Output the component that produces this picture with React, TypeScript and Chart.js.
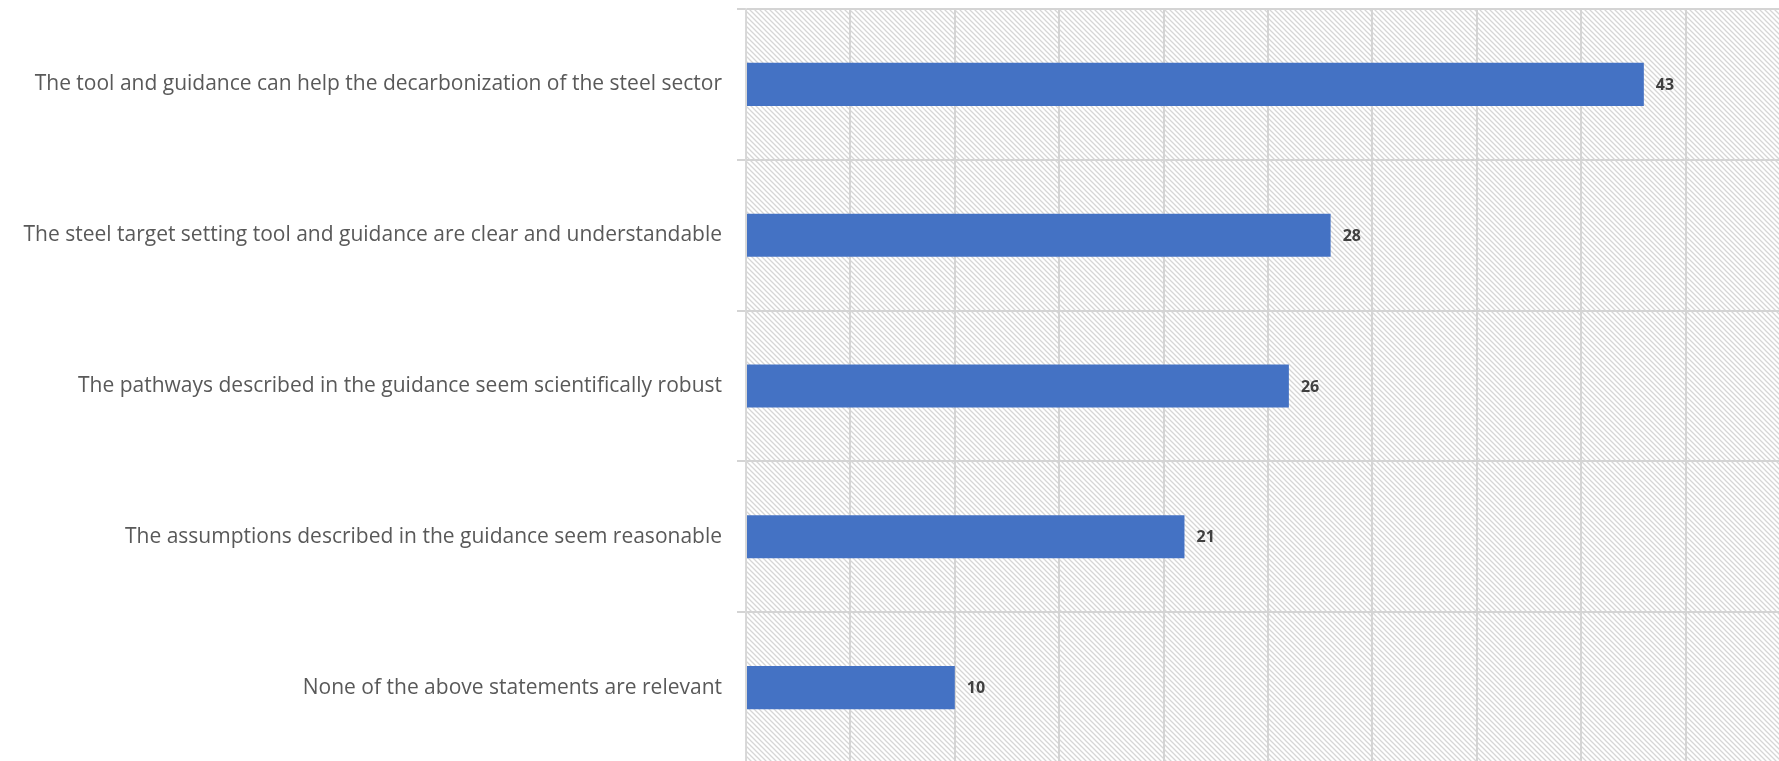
import React, { useEffect, useRef } from "react";
import { Chart, registerables } from "chart.js";

Chart.register(...registerables);

const categories: string[] = [
  "The tool and guidance can help the decarbonization of the steel sector",
  "The steel target setting tool and guidance are clear and understandable",
  "The pathways described in the guidance seem scientifically robust",
  "The assumptions described in the guidance seem reasonable",
  "None of the above statements are relevant",
];
const values: number[] = [43, 28, 26, 21, 10];
const xMin = 0;
const xMax = 50;
const xStep = 5;

const LABEL_FONT = "'Open Sans', sans-serif";

function makePattern(ctx: CanvasRenderingContext2D): CanvasPattern | string {
  const s = 5;
  const c = document.createElement("canvas");
  c.width = s;
  c.height = s;
  const p = c.getContext("2d");
  if (!p) return "#eeeeee";
  p.fillStyle = "#ffffff";
  p.fillRect(0, 0, s, s);
  p.strokeStyle = "#d6d6d6";
  p.lineWidth = 1.3;
  p.beginPath();
  p.moveTo(-1, -1);
  p.lineTo(s + 1, s + 1);
  p.moveTo(-1 - s, -1);
  p.lineTo(1, s + 1);
  p.moveTo(s - 1, -1);
  p.lineTo(2 * s + 1, s + 1);
  p.stroke();
  return ctx.createPattern(c, "repeat") || "#eeeeee";
}

const hatchPlugin = {
  id: "hatchBg",
  beforeDraw(chart: any) {
    const { ctx, chartArea } = chart;
    if (!chartArea) return;
    ctx.save();
    ctx.fillStyle = makePattern(ctx);
    ctx.fillRect(chartArea.left, chartArea.top, chartArea.right - chartArea.left, chartArea.bottom - chartArea.top);
    ctx.restore();
  },
};

const valueLabelPlugin = {
  id: "valueLabels",
  afterDatasetsDraw(chart: any) {
    const { ctx } = chart;
    const meta = chart.getDatasetMeta(0);
    ctx.save();
    ctx.font = "bold 16px 'Open Sans', sans-serif";
    ctx.fillStyle = "#404040";
    ctx.textAlign = "left";
    ctx.textBaseline = "middle";
    meta.data.forEach((bar: any, i: number) => {
      ctx.fillText(String(values[i]), bar.x + 12, bar.y + 1);
    });
    ctx.restore();
  },
};

export default function App() {
  const ref = useRef<HTMLCanvasElement | null>(null);
  useEffect(() => {
    if (!ref.current) return;
    const chart = new Chart(ref.current, {
      type: "bar",
      data: {
        labels: categories,
        datasets: [
          {
            data: values,
            backgroundColor: "#4472c4",
            borderWidth: 0,
            barPercentage: 0.286,
            categoryPercentage: 1,
          },
        ],
      },
      options: {
        indexAxis: "y",
        animation: false,
        responsive: false,
        maintainAspectRatio: false,
        layout: { padding: { top: 9, left: 0, right: 0, bottom: 0 } },
        plugins: {
          legend: { display: false },
          tooltip: { enabled: false },
        },
        scales: {
          x: {
            min: xMin,
            max: xMax,
            afterFit: (scale: any) => {
              scale.height = 0;
              scale.paddingLeft = 0;
              scale.paddingRight = 0;
            },
            ticks: { display: false, stepSize: xStep },
            grid: { color: "#d4d4d4", lineWidth: 2, drawTicks: false },
            border: { display: false },
          },
          y: {
            afterFit: (scale: any) => {
              scale.width = 746;
              scale.paddingTop = 0;
              scale.paddingBottom = 0;
            },
            ticks: {
              color: "#595959",
              font: { family: LABEL_FONT, size: 21 },
              padding: 15,
            },
            grid: { color: "#d4d4d4", lineWidth: 2, tickLength: 9, offset: true },
            border: { display: true, color: "#d9d9d9", width: 1.5 },
          },
        },
      },
      plugins: [hatchPlugin, valueLabelPlugin],
    });
    return () => chart.destroy();
  }, []);
  return (
    <div style={{ position: "fixed", left: 0, top: 0, width: 1779, height: 761, overflow: "hidden", background: "#fff" }}>
      <canvas ref={ref} width={1790} height={763} style={{ display: "block" }} />
    </div>
  );
}
